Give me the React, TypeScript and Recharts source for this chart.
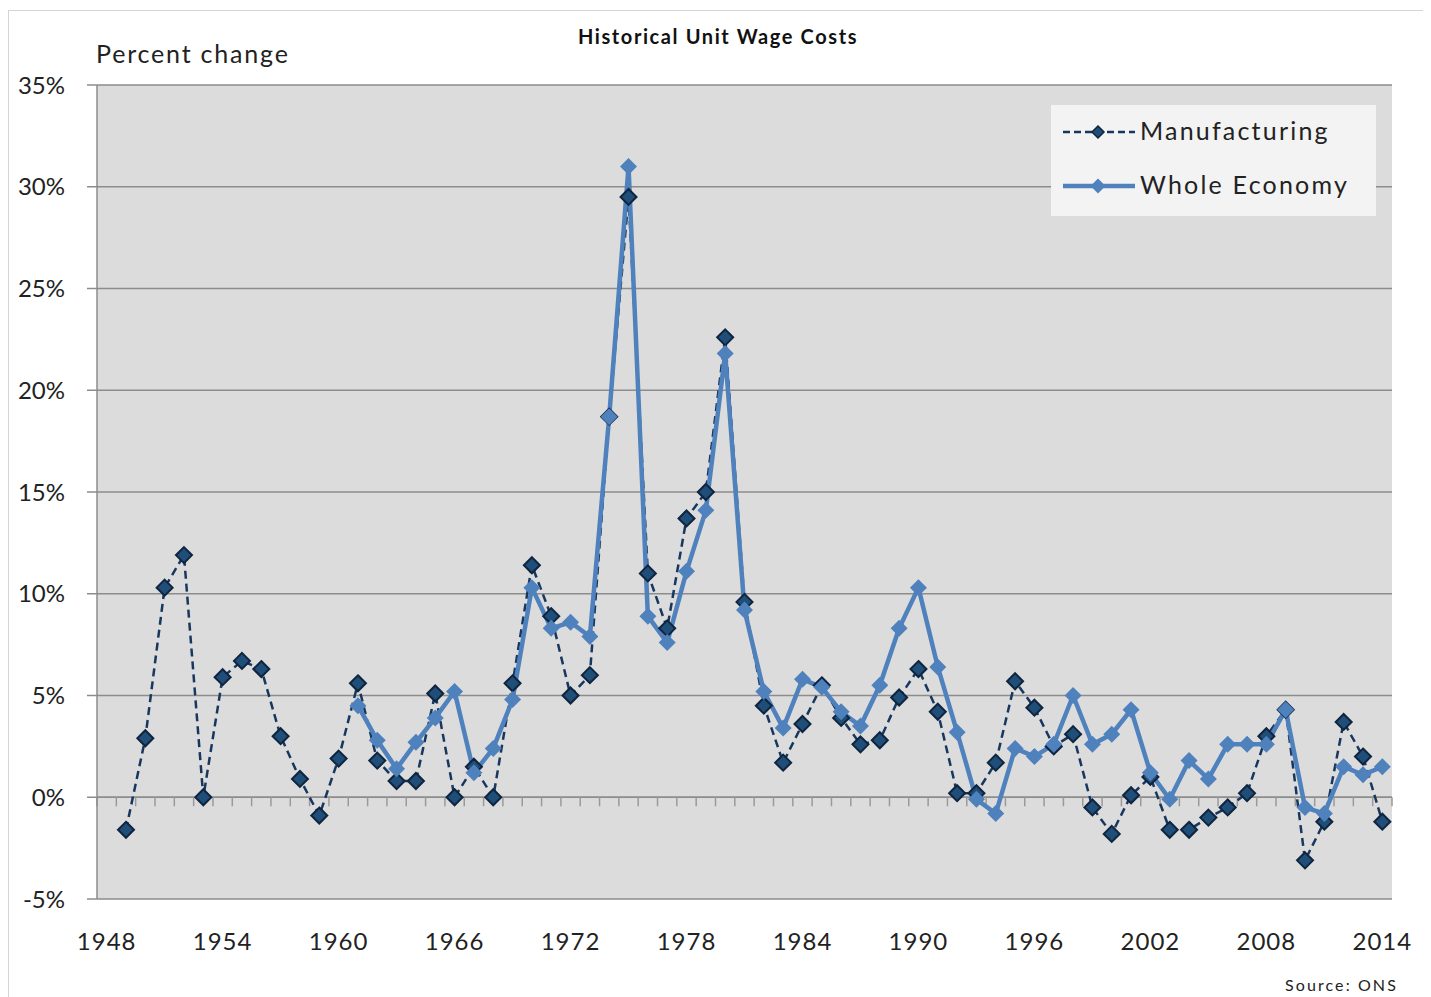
import {
  LineChart,
  Line,
  XAxis,
  YAxis,
  CartesianGrid,
  ReferenceLine,
} from "recharts";

const YEARS = [
  "1948", "1949", "1950", "1951", "1952", "1953", "1954", "1955", "1956", "1957",
  "1958", "1959", "1960", "1961", "1962", "1963", "1964", "1965", "1966", "1967",
  "1968", "1969", "1970", "1971", "1972", "1973", "1974", "1975", "1976", "1977",
  "1978", "1979", "1980", "1981", "1982", "1983", "1984", "1985", "1986", "1987",
  "1988", "1989", "1990", "1991", "1992", "1993", "1994", "1995", "1996", "1997",
  "1998", "1999", "2000", "2001", "2002", "2003", "2004", "2005", "2006", "2007",
  "2008", "2009", "2010", "2011", "2012", "2013", "2014",
];

// 1948 -> 2014, % change
const MANUFACTURING = [
  null, -1.6, 2.9, 10.3, 11.9, 0.0, 5.9, 6.7, 6.3, 3.0,
  0.9, -0.9, 1.9, 5.6, 1.8, 0.8, 0.8, 5.1, 0.0, 1.5,
  0.0, 5.6, 11.4, 8.9, 5.0, 6.0, 18.7, 29.5, 11.0, 8.3,
  13.7, 15.0, 22.6, 9.6, 4.5, 1.7, 3.6, 5.5, 3.9, 2.6,
  2.8, 4.9, 6.3, 4.2, 0.2, 0.2, 1.7, 5.7, 4.4, 2.5,
  3.1, -0.5, -1.8, 0.1, 1.0, -1.6, -1.6, -1.0, -0.5, 0.2,
  3.0, 4.3, -3.1, -1.2, 3.7, 2.0, -1.2,
];

const WHOLE_ECONOMY = [
  null, null, null, null, null, null, null, null, null, null,
  null, null, null, 4.5, 2.8, 1.4, 2.7, 3.9, 5.2, 1.2,
  2.4, 4.8, 10.3, 8.3, 8.6, 7.9, 18.7, 31.0, 8.9, 7.6,
  11.1, 14.1, 21.8, 9.2, 5.2, 3.4, 5.8, 5.4, 4.2, 3.5,
  5.5, 8.3, 10.3, 6.4, 3.2, -0.1, -0.8, 2.4, 2.0, 2.6,
  5.0, 2.6, 3.1, 4.3, 1.2, -0.1, 1.8, 0.9, 2.6, 2.6,
  2.6, 4.3, -0.5, -0.8, 1.5, 1.1, 1.5,
];

const Y_TICKS = [-5, 0, 5, 10, 15, 20, 25, 30, 35];

const data = YEARS.map((year, i) => ({
  year,
  manufacturing: MANUFACTURING[i],
  whole: WHOLE_ECONOMY[i],
}));

const FONT = "Lato, 'Open Sans', sans-serif";
const MANU_COLOR = "#17375e";
const WHOLE_COLOR = "#4f81bd";

function diamond(cx: number, cy: number, r: number) {
  return `M${cx},${cy - r} L${cx + r},${cy} L${cx},${cy + r} L${cx - r},${cy} Z`;
}

function ManuDot(props: any) {
  const { cx, cy, index } = props;
  if (cx == null || cy == null || props.value == null) return <g key={`m-${index}`} />;
  return (
    <path
      key={`m-${index}`}
      d={diamond(cx, cy, 8)}
      fill="#1f4e79"
      stroke="#0f243e"
      strokeWidth={2}
    />
  );
}

function WholeDot(props: any) {
  const { cx, cy, index } = props;
  if (cx == null || cy == null || props.value == null) return <g key={`w-${index}`} />;
  return <path key={`w-${index}`} d={diamond(cx, cy, 8.5)} fill={WHOLE_COLOR} />;
}

// zero line with category tick marks hanging below it
function ZeroAxis(props: any) {
  const { x1, x2, y1 } = props;
  const n = YEARS.length;
  const step = (x2 - x1) / n;
  const ticks = [];
  for (let i = 0; i <= n; i++) {
    const x = x1 + i * step;
    ticks.push(<line key={i} x1={x} x2={x} y1={y1} y2={y1 + 9} stroke="#9a9a9a" strokeWidth={1.5} />);
  }
  return (
    <g>
      <line x1={x1} x2={x2} y1={y1} y2={y1} stroke="#8c8c8c" strokeWidth={1.5} />
      {ticks}
    </g>
  );
}

function LegendBox() {
  return (
    <div
      style={{
        position: "absolute",
        left: 1043,
        top: 97,
        background: "#f3f3f3",
        width: 325,
        height: 111,
        fontFamily: FONT,
        fontSize: 25,
        color: "#222",
        letterSpacing: 2.2,
      }}
    >
      <svg width={90} height={111} style={{ position: "absolute", left: 0, top: 0 }}>
        <line x1={12} x2={84} y1={27} y2={27} stroke={MANU_COLOR} strokeWidth={2.5} strokeDasharray="7 4" />
        <path d={diamond(47, 27, 6)} fill="#1f4e79" stroke="#0f243e" strokeWidth={1.5} />
        <line x1={12} x2={84} y1={81} y2={81} stroke={WHOLE_COLOR} strokeWidth={4.5} />
        <path d={diamond(47, 81, 7.5)} fill={WHOLE_COLOR} />
      </svg>
      <div style={{ position: "absolute", left: 89, top: 10 }}>Manufacturing</div>
      <div style={{ position: "absolute", left: 89, top: 64 }}>Whole Economy</div>
    </div>
  );
}

export default function App() {
  return (
    <div style={{ position: "relative", width: 1423, height: 989, fontFamily: FONT }}>
      <div
        style={{
          position: "absolute",
          left: 0,
          top: 2,
          width: 1419,
          height: 990,
          border: "1px solid #d4d4d4",
          boxSizing: "border-box",
        }}
      />
      <LineChart
        width={1423}
        height={989}
        data={data}
        margin={{ top: 77, right: 39, bottom: 38, left: 29 }}
        style={{ position: "absolute", left: 0, top: 0 }}
      >
        <CartesianGrid vertical={false} stroke="#8c8c8c" strokeWidth={1.5} fill="#dcdcdc" />
        <XAxis
          dataKey="year"
          scale="band"
          interval={5}
          axisLine={false}
          tickLine={false}
          tickSize={0}
          tickMargin={34}
          height={60}
          tick={{ fontSize: 24, fill: "#222", fontFamily: FONT, letterSpacing: 1 }}
        />
        <YAxis
          domain={[-5, 35]}
          ticks={Y_TICKS}
          allowDataOverflow
          width={60}
          tickFormatter={(v) => `${v}%`}
          axisLine={{ stroke: "#8c8c8c", strokeWidth: 1.5 }}
          tickLine={{ stroke: "#8c8c8c", strokeWidth: 1.5 }}
          tickSize={10}
          tickMargin={22}
          tick={{ fontSize: 24, fill: "#222", fontFamily: FONT }}
        />
        <ReferenceLine y={0} shape={ZeroAxis} />
        <Line
          dataKey="manufacturing"
          name="Manufacturing"
          stroke={MANU_COLOR}
          strokeWidth={2.5}
          strokeDasharray="8 5"
          dot={ManuDot}
          activeDot={false}
          isAnimationActive={false}
        />
        <Line
          dataKey="whole"
          name="Whole Economy"
          stroke={WHOLE_COLOR}
          strokeWidth={4.5}
          dot={WholeDot}
          activeDot={false}
          isAnimationActive={false}
        />
      </LineChart>
      <LegendBox />
      <div
        style={{
          position: "absolute",
          left: 0,
          width: 1420,
          top: 16,
          textAlign: "center",
          fontWeight: 700,
          fontSize: 20,
          letterSpacing: 1.6,
          color: "#111",
        }}
      >
        Historical Unit Wage Costs
      </div>
      <div style={{ position: "absolute", left: 88, top: 30, fontSize: 25, letterSpacing: 1.8, color: "#222" }}>
        Percent change
      </div>
      <div style={{ position: "absolute", left: 1277, top: 967, fontSize: 16, letterSpacing: 2.1, color: "#222" }}>
        Source: ONS
      </div>
    </div>
  );
}
